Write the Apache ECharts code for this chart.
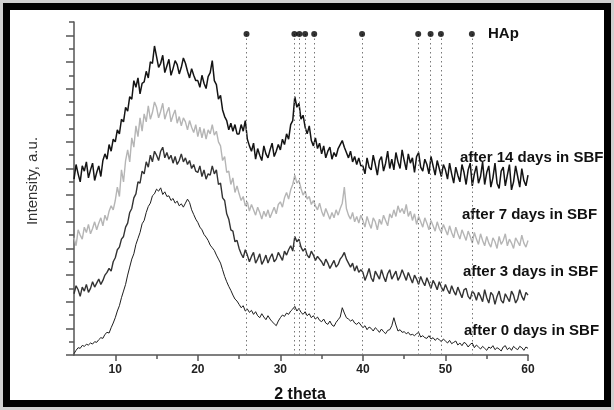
<!DOCTYPE html>
<html>
<head>
<meta charset="utf-8">
<script src="https://cdn.jsdelivr.net/npm/echarts@6/dist/echarts.min.js"></script>
<style>
html,body{margin:0;padding:0;background:#cfcfcf;width:614px;height:410px;overflow:hidden;}
#c{position:absolute;left:3px;top:3px;width:594px;height:390px;border:7px solid #000;background:#fff;}
</style>
</head>
<body>
<div id="c"></div>
<script>
// ---- data ----
const thetaStart = 5, thetaStep = 0.25;

const days0 = [
0.10,0.35,0.55,0.50,0.72,0.65,0.80,0.75,0.90,0.82,1.00,0.95,1.15,1.30,1.25,1.55,1.70,1.65,2.05,2.40,
2.80,3.30,3.70,4.30,4.80,5.30,6.00,6.60,7.20,7.60,8.30,8.75,9.20,9.85,10.10,10.70,11.15,11.40,11.95,12.10,
12.45,12.30,12.55,12.05,12.25,11.90,11.95,11.60,11.75,11.40,11.55,11.20,11.35,11.10,11.40,11.70,11.45,10.90,10.55,10.20,
9.95,9.60,9.40,9.05,8.85,8.60,8.25,8.05,7.85,7.50,7.20,6.90,6.40,5.90,5.50,5.15,4.85,4.50,4.20,4.05,
3.80,3.55,3.70,3.30,3.45,3.20,3.35,3.05,3.25,2.95,2.80,3.10,2.85,2.65,2.95,2.70,2.50,2.35,2.20,2.55,
2.80,3.00,2.90,3.15,3.05,3.30,3.45,3.65,3.30,3.50,3.20,3.05,3.25,2.95,3.10,2.80,2.95,2.70,2.85,2.60,
2.50,2.70,2.40,2.30,2.55,2.25,2.15,2.45,2.65,2.85,3.55,3.15,2.80,2.70,2.55,2.65,2.40,2.30,2.45,2.25,
2.05,2.20,1.90,2.10,2.00,1.80,2.05,1.90,1.70,1.95,1.75,1.60,1.85,1.90,2.20,2.80,2.25,1.80,1.90,1.70,
1.75,1.60,1.70,1.50,1.55,1.45,1.60,1.70,1.35,1.45,1.30,1.25,1.45,1.20,1.30,1.10,1.25,1.15,1.00,1.20,
1.05,0.90,1.10,0.85,0.95,1.05,0.75,0.90,0.70,0.95,0.85,0.60,0.80,0.90,0.55,0.75,0.60,0.45,0.65,0.50,
0.35,0.60,0.50,0.70,0.40,0.55,0.45,0.30,0.60,0.70,0.40,0.55,0.35,0.65,0.50,0.40,0.65,0.55,0.35,0.60,
0.50];

const days3 = [
4.6,5.2,4.9,4.4,5.1,4.8,5.3,4.7,5.0,5.5,5.1,5.4,5.7,5.3,5.6,6.0,6.2,6.5,6.3,7.0,
7.3,7.9,8.1,8.7,8.9,9.6,9.9,10.7,11.0,11.8,12.1,13.0,12.9,13.8,13.6,14.5,14.1,15.0,14.5,15.3,
15.0,14.6,15.3,15.6,14.8,15.2,14.7,15.0,14.4,14.9,14.3,14.6,15.1,14.5,14.8,14.3,14.6,14.0,14.3,13.8,
13.7,14.2,13.4,13.9,13.2,13.6,13.5,14.2,13.6,13.9,12.8,12.9,11.8,11.6,10.6,10.2,9.4,9.3,8.5,8.6,
8.0,7.6,7.3,7.9,7.5,7.0,7.4,7.7,6.9,7.2,7.6,6.8,7.1,7.5,6.9,7.3,7.6,7.0,7.2,7.7,
7.4,7.1,7.8,7.5,7.9,8.2,7.8,8.9,8.5,8.7,8.1,7.8,8.0,7.5,7.3,7.8,7.5,7.1,7.4,7.2,
7.0,6.7,7.2,6.9,6.5,6.8,7.1,6.6,6.8,7.2,7.4,7.7,7.2,6.9,6.6,6.9,6.3,6.7,6.2,6.4,
6.2,5.6,6.0,6.5,5.8,5.5,6.3,6.0,5.7,6.4,5.9,5.5,6.1,6.4,5.7,6.0,6.3,5.6,5.9,6.4,
6.0,5.6,6.2,5.8,5.4,6.0,5.7,5.3,5.9,5.5,5.2,5.8,5.4,5.0,5.6,5.3,4.9,5.5,5.1,4.8,
5.3,4.9,4.6,5.2,4.8,4.5,5.1,4.7,4.3,4.9,5.0,4.4,4.2,4.8,4.6,4.1,4.7,4.4,4.0,4.9,
4.3,3.9,4.7,4.5,3.8,4.4,4.8,4.1,3.9,4.6,4.3,4.0,4.8,4.5,3.9,4.2,4.9,4.4,4.1,4.7,
4.5];

const days7 = [
8.8,8.2,9.4,9.0,8.7,9.6,9.2,9.8,9.1,9.5,10.0,9.4,9.9,10.3,9.7,10.5,10.1,10.8,11.2,10.9,
11.6,12.6,11.9,13.9,13.0,14.6,15.4,14.5,16.3,15.6,17.2,16.4,17.8,16.8,18.1,17.5,18.7,17.7,18.2,19.0,
18.6,17.8,18.3,18.9,17.7,18.2,18.6,17.5,18.0,18.4,17.4,17.9,17.2,17.8,17.5,16.9,17.6,17.1,16.7,17.3,
16.4,17.1,16.3,17.0,16.2,16.9,16.6,17.3,16.5,16.8,16.0,15.7,14.6,14.9,13.7,13.8,12.8,13.3,12.2,12.7,
12.1,11.6,11.9,11.2,11.5,10.8,11.3,10.9,10.5,11.1,10.7,10.2,10.8,10.4,10.9,10.3,10.7,11.1,10.6,11.3,
11.5,11.1,11.8,12.2,11.7,12.4,12.8,13.5,12.9,13.1,12.5,12.0,12.3,11.7,11.9,11.3,11.6,11.2,10.9,11.4,
10.8,10.4,11.0,10.6,10.2,10.7,10.3,10.9,10.5,11.0,11.4,12.6,11.0,10.5,10.2,10.7,10.0,10.4,9.9,10.5,
10.1,9.6,10.4,9.9,9.5,10.3,10.0,9.4,10.2,9.8,10.5,10.1,9.7,10.6,10.3,10.9,10.4,11.2,10.7,11.0,
10.6,11.3,10.4,10.8,10.1,10.6,9.8,10.4,10.0,9.6,10.3,9.9,9.4,10.1,9.7,9.3,10.0,9.5,9.2,9.8,
9.4,9.0,9.7,9.2,8.8,9.6,9.1,8.7,9.4,9.0,8.6,9.3,8.9,8.4,9.2,8.7,8.3,9.1,8.6,8.2,
8.9,8.4,8.1,8.8,8.5,8.0,8.9,8.3,8.6,9.1,8.2,8.7,8.4,8.0,8.8,8.5,8.2,9.0,8.4,8.1,
8.6];

const days14 = [
13.2,14.3,13.6,13.0,14.2,13.8,14.5,13.3,13.9,14.4,13.1,13.7,14.2,13.4,14.6,15.1,14.7,15.8,15.3,16.2,
16.0,16.9,16.6,17.7,17.5,18.6,18.3,19.4,19.2,20.6,20.1,20.8,19.6,20.4,20.5,21.3,20.8,22.0,21.9,23.2,
22.4,21.6,21.9,22.5,21.2,21.7,22.2,21.0,21.5,22.1,21.8,21.1,21.6,22.3,21.9,21.3,20.8,21.5,21.0,20.6,
20.6,20.1,21.0,20.4,20.0,20.9,21.2,22.1,20.6,20.3,19.2,19.5,18.4,17.9,17.6,16.9,17.4,16.8,17.3,16.6,
16.6,17.3,16.8,17.6,16.2,15.7,15.3,15.9,14.7,15.5,15.0,14.6,15.7,15.1,14.8,15.4,15.9,14.9,15.3,15.8,
15.4,16.2,15.8,16.6,16.2,17.3,17.6,19.4,18.6,18.9,17.7,18.0,17.1,16.6,17.2,16.1,15.7,16.3,15.5,15.9,
15.1,15.7,14.8,15.3,15.6,14.7,15.2,14.9,15.5,15.8,16.1,15.6,15.2,14.8,15.3,14.5,14.9,14.3,14.8,14.2,
14.2,13.6,14.8,14.1,13.9,15.0,14.3,13.5,14.6,14.9,13.8,14.4,15.3,14.0,14.7,13.9,15.2,14.5,14.0,15.4,
14.6,13.9,15.1,14.4,14.8,13.7,14.9,15.2,14.1,13.8,14.7,14.3,13.6,14.9,14.2,13.5,14.6,14.0,13.4,14.3,
13.9,13.2,14.4,13.6,12.9,14.1,13.5,13.0,14.3,13.7,12.8,13.9,14.4,12.7,13.6,14.2,12.9,13.4,14.5,12.8,
13.7,14.2,12.6,13.3,14.4,12.9,12.5,13.8,14.1,12.7,13.5,14.3,12.4,13.0,14.2,13.4,12.6,14.0,13.1,12.7,
13.5];

const hapPeaks = [25.9, 31.7, 32.3, 33.0, 34.1, 39.9, 46.7, 48.2, 49.45, 53.2];
const hapLevel = 24.1;

const seriesNames = ['after 0 days in SBF','after 3 days in SBF','after 7 days in SBF','after 14 days in SBF'];
const xMajorTicks = [10, 20, 30, 40, 50, 60];
const xMinorTicks = [15, 25, 35, 45, 55];
const yMajorTicks = [0,2,4,6,8,10,12,14,16,18,20,22,24];
const yMinorTicks = [1,3,5,7,9,11,13,15,17,19,21,23,25];

// ---- build ----
function pairs(vals){ return vals.map((v,i)=>[thetaStart + i*thetaStep, v]); }

const axisCol = '#555';
const chart = echarts.init(document.getElementById('c'), null, {renderer:'canvas'});
const lineSeries = (name, vals, color, width) => ({
  name, type:'line', data: pairs(vals), showSymbol:false, symbol:'none',
  lineStyle:{color, width}, silent:true, z:3
});

chart.setOption({
  animation:false,
  backgroundColor:'#fff',
  grid:{left:64, top:12, width:454, height:333, containLabel:false},
  xAxis:[
    {type:'value', min:5, max:60,
     axisLine:{show:true, lineStyle:{color:axisCol, width:1.5}},
     axisTick:{show:true, length:6, customValues:xMajorTicks, lineStyle:{color:axisCol, width:1.5}},
     axisLabel:{show:true, customValues:xMajorTicks, fontFamily:'Liberation Sans', fontWeight:'bold', fontSize:12, color:'#222', margin:9},
     splitLine:{show:false}},
    {type:'value', min:5, max:60, position:'bottom',
     axisLine:{show:false},
     axisTick:{show:true, length:4, customValues:xMinorTicks, lineStyle:{color:axisCol, width:1.5}},
     axisLabel:{show:false}, splitLine:{show:false}}
  ],
  yAxis:[
    {type:'value', min:0, max:25,
     axisLine:{show:true, lineStyle:{color:axisCol, width:1.5}},
     axisTick:{show:true, length:8, customValues:yMajorTicks, lineStyle:{color:axisCol, width:1.5}},
     axisLabel:{show:false}, splitLine:{show:false}},
    {type:'value', min:0, max:25, position:'left',
     axisLine:{show:false},
     axisTick:{show:true, length:5, customValues:yMinorTicks, lineStyle:{color:axisCol, width:1.5}},
     axisLabel:{show:false}, splitLine:{show:false}}
  ],
  series:[
    {type:'scatter', name:'HAp', data: hapPeaks.map(p=>[p, hapLevel]), symbolSize:6,
     itemStyle:{color:'#000'}, silent:true, z:5,
     markLine:{silent:true, symbol:['none','none'], label:{show:false},
       lineStyle:{type:[1.5,3], color:'#777', width:1},
       data: hapPeaks.map(p=>[{coord:[p,0]},{coord:[p,hapLevel]}])}},
    lineSeries(seriesNames[0], days0, '#1e1e1e', 1),
    lineSeries(seriesNames[1], days3, '#333333', 1.4),
    lineSeries(seriesNames[2], days7, '#b5b5b5', 1.4),
    lineSeries(seriesNames[3], days14, '#141414', 1.5)
  ],
  graphic:{elements:[
    {type:'text', x:478, y:24, style:{text:'HAp', font:'bold 15px "Liberation Sans"', fill:'#111', textVerticalAlign:'middle'}},
    {type:'text', x:450, y:148, style:{text:seriesNames[3], font:'bold 15px "Liberation Sans"', fill:'#111', textVerticalAlign:'middle'}},
    {type:'text', x:452, y:205, style:{text:seriesNames[2], font:'bold 15px "Liberation Sans"', fill:'#111', textVerticalAlign:'middle'}},
    {type:'text', x:453, y:262, style:{text:seriesNames[1], font:'bold 15px "Liberation Sans"', fill:'#111', textVerticalAlign:'middle'}},
    {type:'text', x:454, y:321, style:{text:seriesNames[0], font:'bold 15px "Liberation Sans"', fill:'#111', textVerticalAlign:'middle'}},
    {type:'text', x:290, y:385, style:{text:'2 theta', font:'bold 16px "Liberation Sans"', fill:'#111', textAlign:'center', textVerticalAlign:'middle'}},
    {type:'text', x:23, y:171, rotation:Math.PI/2, style:{text:'Intensity, a.u.', font:'15px "Liberation Sans"', fill:'#333', textAlign:'center', textVerticalAlign:'middle'}}
  ]}
});
</script>
</body>
</html>
